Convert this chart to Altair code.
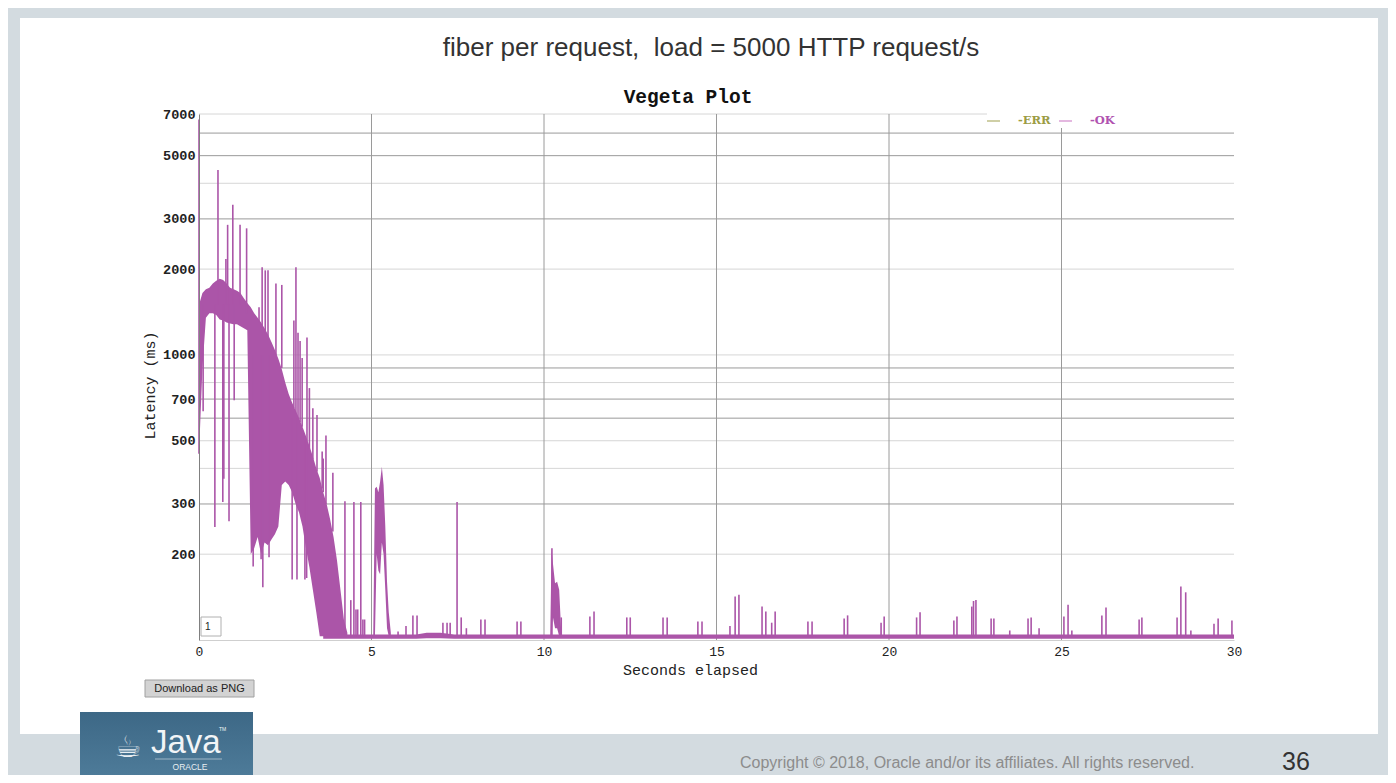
import altair as alt
import pandas as pd

# ---------------- data ----------------
x_ticks = [0, 5, 10, 15, 20, 25, 30]
y_labels = [200, 300, 500, 700, 1000, 2000, 3000, 5000, 7000]
grid_dark = [300, 600, 700, 900, 3000, 5000, 6000]
grid_light = [200, 400, 500, 800, 1000, 2000, 4000, 7000]
x_grid = [5, 10, 15, 20, 25]

# dense latency band (0 - 4.3 s): upper / lower envelope, ms
band_t = [0.0, 0.1, 0.2, 0.3, 0.4, 0.5, 0.6, 0.7, 0.8, 0.9,
          1.0, 1.1, 1.2, 1.3, 1.4, 1.5, 1.6, 1.7, 1.8, 1.9,
          2.0, 2.1, 2.2, 2.3, 2.4, 2.5, 2.6, 2.7, 2.8, 2.9,
          3.0, 3.1, 3.2, 3.3, 3.4, 3.5, 3.6, 3.7, 3.8, 3.9,
          4.0, 4.1, 4.2, 4.3]
band_hi = [1500, 1650, 1700, 1720, 1780, 1820, 1850, 1830, 1780, 1720,
           1700, 1680, 1650, 1580, 1520, 1470, 1400, 1350, 1300, 1240,
           1180, 1110, 1040, 970, 890, 800, 730, 680, 640, 600,
           560, 520, 480, 440, 400, 370, 330, 300, 265, 230,
           190, 150, 118, 106]
band_lo = [450, 900, 1350, 1400, 1400, 1380, 1330, 1320, 1300, 1290,
           1280, 1280, 1260, 1240, 1220, 200, 210, 230, 200, 220,
           215, 225, 235, 250, 350, 360, 350, 330, 300, 280,
           250, 210, 180, 150, 125, 103, 103, 103, 103, 103,
           103, 103, 103, 103]

# burst around 5.1 - 5.5 s
c1_t = [5.05, 5.1, 5.15, 5.2, 5.25, 5.3, 5.35, 5.4, 5.45, 5.5, 5.56]
c1_hi = [103, 340, 345, 330, 360, 405, 350, 250, 160, 125, 106]
c1_lo = [103, 103, 200, 175, 170, 220, 200, 150, 110, 103, 103]

# burst around 10.2 s
c2_t = [10.18, 10.22, 10.26, 10.32, 10.38, 10.44, 10.5]
c2_hi = [103, 208, 185, 158, 160, 150, 106]
c2_lo = [103, 103, 120, 110, 110, 103, 103]

# floor of the latency after the warm-up
base_t = [3.6, 6.3, 6.6, 7.0, 7.4, 30.0]
base_lo = [101, 101, 101.5, 101.5, 101, 101]
base_hi = [104.5, 104.5, 106, 106, 104.5, 104.5]

# single spikes in the warm-up phase (from, to), ms
spike_t = [0.0, 0.55, 0.78, 0.83, 0.98, 1.19, 1.38, 1.74, 1.83, 1.92,
           2.0, 2.23, 2.4, 2.75, 2.81, 2.87, 2.93, 2.99, 3.13, 3.2,
           3.3, 3.42, 3.57, 3.6, 3.68, 3.88, 4.23, 4.49, 4.69,
           0.12, 0.46, 0.69, 0.72, 0.87, 1.02, 1.57, 1.8, 1.85, 2.03,
           2.7, 2.84, 3.07, 3.12]
spike_from = [450, 1500, 1500, 1500, 1500, 1500, 1400, 1300, 1250, 1200,
              1150, 1000, 900, 650, 620, 600, 580, 560, 500, 470,
              430, 390, 340, 330, 300, 240, 103, 103, 103,
              1500, 1500, 1500, 1500, 1500, 1500, 1000, 1000, 1000, 1000,
              600, 600, 500, 500]
spike_to = [6700, 4450, 2170, 2860, 3360, 2860, 2780, 1470, 2030, 1980,
            1980, 1780, 1760, 1320, 2030, 1195, 1120, 975, 1150, 765,
            650, 615, 458, 433, 522, 386, 307, 305, 305,
            634, 249, 305, 368, 261, 694, 181, 192, 153, 195,
            163, 163, 163, 165]

# small spikes on the floor (peak, ms)
tail_t = [4.4, 4.55, 4.6, 4.75, 4.8, 5.77, 6.0, 6.2, 6.32,
          7.07, 7.19, 7.28, 7.48, 7.6, 7.75, 8.17, 8.29, 9.22, 9.33,
          10.23, 10.5, 11.33, 11.45, 12.4, 12.5, 13.45, 13.57, 14.46, 14.58,
          15.39, 15.54, 15.65, 16.32, 16.43, 16.6, 16.7, 17.65, 17.77,
          18.7, 18.8, 19.77, 19.86, 20.8, 20.9, 21.88, 21.97,
          22.4, 22.45, 22.52, 22.96, 23.04, 23.5, 24.03, 24.12, 24.35,
          25.07, 25.19, 25.3, 26.17, 26.29, 27.25, 27.33,
          28.35, 28.46, 28.6, 28.75, 29.42, 29.54, 29.94]
tail_peak = [138, 128, 128, 118, 118, 107, 112, 122, 122,
             115, 115, 115, 305, 120, 110, 118, 118, 116, 116,
             210, 120, 121, 126, 120, 120, 120, 120, 116, 116,
             112, 142, 144, 131, 126, 115, 126, 116, 116,
             119, 122, 115, 121, 120, 125, 117, 121,
             131, 137, 138, 119, 119, 108, 119, 120, 110,
             121, 133, 108, 122, 130, 118, 120,
             120, 154, 147, 108, 114, 119, 117]
tail_floor = 103

# ---------------- tables ----------------
bands = pd.concat([
    pd.DataFrame({"t": band_t, "hi": band_hi, "lo": band_lo, "seg": "a"}),
    pd.DataFrame({"t": c1_t, "hi": c1_hi, "lo": c1_lo, "seg": "b"}),
    pd.DataFrame({"t": c2_t, "hi": c2_hi, "lo": c2_lo, "seg": "c"}),
    pd.DataFrame({"t": base_t, "hi": base_hi, "lo": base_lo, "seg": "d"}),
])
spikes = pd.concat([
    pd.DataFrame({"t": spike_t, "lo": spike_from, "hi": spike_to}),
    pd.DataFrame({"t": tail_t, "lo": [tail_floor] * len(tail_t), "hi": tail_peak}),
])
gd = pd.DataFrame({"v": grid_dark})
gl = pd.DataFrame({"v": grid_light})
gx = pd.DataFrame({"t": x_grid})
one = pd.DataFrame({"a": [0]})

# ---------------- layout ----------------
W, H = 1035, 526          # plot area: page x 199..1234, y 114..640
OX, OY = 199, 114
PURPLE = "#AB55A8"
MONO = "Liberation Mono"
SANS = "Liberation Sans"


def px(X):
    return X - OX


def py(Y):
    return Y - OY


xs = alt.Scale(domain=[0, 30], nice=False, zero=False)
ys = alt.Scale(type="log", domain=[100, 7000], nice=False)

xaxis = alt.Axis(values=x_ticks, format="d", title="Seconds elapsed", grid=False,
                 ticks=False, domainColor="#cfcfcf", labelFont=MONO, labelFontSize=13,
                 labelColor="#222222", labelPadding=5, labelFlush=False,
                 titleFont=MONO, titleFontSize=15, titleFontWeight="normal",
                 titleColor="#222222", titlePadding=4, titleX=px(690),
                 titleAlign="center", zindex=1)
yaxis = alt.Axis(values=y_labels, format="d", title="Latency (ms)", grid=False,
                 ticks=False, domainColor="#808080", labelFont=MONO, labelFontSize=13.5,
                 labelColor="#222222", labelPadding=4, labelFlush=False,
                 labelFontWeight="bold",
                 titleFont=MONO, titleFontSize=15, titleFontWeight="normal",
                 titleColor="#222222", titlePadding=5, titleY=py(385),
                 titleAlign="center", zindex=1)


def rect(x1, x2, y1, y2, **kw):
    return alt.Chart(one).mark_rect(**kw).encode(
        x=alt.value(px(x1)), x2=alt.value(px(x2)),
        y=alt.value(py(y1)), y2=alt.value(py(y2)))


def text(s, X, Y, **kw):
    return alt.Chart(one).mark_text(text=s, baseline="middle", **kw).encode(
        x=alt.value(px(X)), y=alt.value(py(Y)))


panel = rect(20, 1378, 18, 734, fill="#FFFFFF")

grid_d = alt.Chart(gd).mark_rule(color="#9a9a9a", strokeWidth=1).encode(
    y=alt.Y("v:Q", scale=ys, axis=yaxis), x=alt.value(0), x2=alt.value(W))
grid_l = alt.Chart(gl).mark_rule(color="#d6d6d6", strokeWidth=1).encode(
    y=alt.Y("v:Q", scale=ys, axis=yaxis), x=alt.value(0), x2=alt.value(W))
grid_x = alt.Chart(gx).mark_rule(color="#9a9a9a", strokeWidth=1).encode(
    x=alt.X("t:Q", scale=xs, axis=xaxis), y=alt.value(0), y2=alt.value(H))

legend_bg = rect(987, 1238, 108, 128, fill="#FFFFFF")

band = alt.Chart(bands).mark_area(color=PURPLE, opacity=1, interpolate="linear").encode(
    x=alt.X("t:Q", scale=xs, axis=xaxis),
    y=alt.Y("hi:Q", scale=ys, axis=yaxis),
    y2="lo:Q",
    detail="seg:N")

spike = alt.Chart(spikes).mark_rule(color=PURPLE, strokeWidth=1.6).encode(
    x=alt.X("t:Q", scale=xs, axis=xaxis),
    y=alt.Y("lo:Q", scale=ys, axis=yaxis),
    y2="hi:Q")

# legend
leg = [
    alt.Chart(one).mark_rule(color="#cfcfa6", strokeWidth=2).encode(
        x=alt.value(px(987)), x2=alt.value(px(1000)), y=alt.value(py(121))),
    text("-ERR", 1018, 121, align="left", font="DejaVu Serif", fontSize=11.5,
         fontWeight="bold", color="#9c9c44"),
    alt.Chart(one).mark_rule(color="#e4b8e0", strokeWidth=2).encode(
        x=alt.value(px(1059)), x2=alt.value(px(1072)), y=alt.value(py(121))),
    text("-OK", 1090, 121, align="left", font="DejaVu Serif", fontSize=11.5,
         fontWeight="bold", color="#b052b0"),
]

# small widgets of the plot page
box1 = rect(201, 221, 617, 636, fill="#FFFFFF", stroke="#b0b0b0", strokeWidth=1)
box1_t = text("1", 205, 627, align="left", font=SANS, fontSize=10, color="#222222")
btn = rect(145, 254, 680, 697, fill="#d3d3d3", stroke="#a0a0a0", strokeWidth=1)
btn_t = text("Download as PNG", 199.5, 689, align="center", font=SANS, fontSize=11,
             color="#222222")

title_v = text("Vegeta Plot", 688, 97, align="center", font=MONO, fontSize=19.5,
               fontWeight="bold", color="#111111")
title_s = text("fiber per request,\u00a0 load = 5000 HTTP request/s", 711, 48,
               align="center", font=SANS, fontSize=26, color="#333333")

# slide footer
java_box = alt.Chart(one).mark_rect(
    fill=alt.Gradient(gradient="linear", x1=0, x2=0, y1=0, y2=1,
                      stops=[alt.GradientStop(color="#3d6886", offset=0),
                             alt.GradientStop(color="#517f9d", offset=1)])
).encode(x=alt.value(px(80)), x2=alt.value(px(253)),
         y=alt.value(py(712)), y2=alt.value(py(790)))
java_cup = text("\u2615", 128, 748, align="center", font="DejaVu Sans", fontSize=30,
                color="#e8eef2")
java_t = text("Java", 151, 743, align="left", font=SANS, fontSize=33, color="#f2f5f7")
java_tm = text("TM", 219, 729, align="left", font=SANS, fontSize=5, color="#f2f5f7")
java_line = alt.Chart(one).mark_rule(color="#9fb6c6", strokeWidth=1).encode(
    x=alt.value(px(155)), x2=alt.value(px(222)), y=alt.value(py(759)))
oracle_t = text("ORACLE", 190, 767, align="center", font=SANS, fontSize=8.5,
                color="#e8eef2")
copy_t = text("Copyright \u00a9 2018, Oracle and/or its affiliates. All rights reserved.",
              740, 763, align="left", font=SANS, fontSize=16, color="#8c8c8c")
page_t = text("36", 1282, 762, align="left", font=SANS, fontSize=25, color="#333333")

chart = alt.layer(
    panel, grid_l, grid_d, grid_x, legend_bg, band, spike, *leg,
    box1, box1_t, btn, btn_t, title_v, title_s,
    java_box, java_cup, java_t, java_tm, java_line, oracle_t, copy_t, page_t,
).properties(
    width=W, height=H,
    padding={"left": OX - 8, "top": OY - 8, "right": 1396 - 8 - (OX + W),
             "bottom": 783 - 8 - (OY + H)},
    autosize=alt.AutoSizeParams(type="none"),
    background="#D3DBE0",
).configure_view(strokeWidth=0)

chart.save("out.html", embed_options={"renderer": "svg", "actions": False})
